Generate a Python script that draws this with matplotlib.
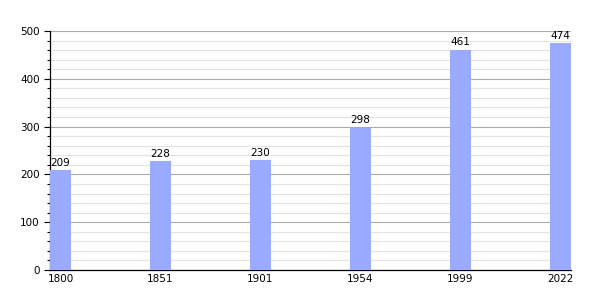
import matplotlib.pyplot as plt
import numpy as np

annees = ["1800", "1851", "1901", "1954", "1999", "2022"]
population = [209, 228, 230, 298, 461, 474]

fig = plt.figure(figsize=(6, 3), dpi=100)
ax = fig.add_axes([50/600, 0.1, 521/600, 239/300])

x = np.arange(len(annees))
largeur = 0.21
ax.bar(x, population, width=largeur, color='#99AAFF', zorder=3)

for xi, v in zip(x, population):
    ax.text(xi, v + 5, str(v), ha='center', va='bottom', fontsize=7.5, color='black')

ax.set_xlim(-largeur/2, len(annees) - 1 + largeur/2)
ax.set_ylim(0, 500)
ax.set_xticks(x)
ax.set_xticklabels(annees, fontsize=7.5)
ax.set_yticks(np.arange(0, 501, 100))
ax.set_yticks(np.arange(0, 501, 20), minor=True)
ax.tick_params(axis='y', labelsize=7.5, length=4, width=0.8)
ax.tick_params(axis='y', which='minor', length=2.5, width=0.8)
ax.tick_params(axis='x', length=0, pad=3)

ax.grid(axis='y', which='major', color='#aaaaaa', linewidth=0.8, zorder=0)
ax.grid(axis='y', which='minor', color='#e4e4e4', linewidth=0.8, zorder=0)

for s in ['top', 'right']:
    ax.spines[s].set_visible(False)
ax.spines['left'].set_linewidth(0.9)
ax.spines['bottom'].set_linewidth(0.9)

fig.savefig('out.png', dpi=100)
